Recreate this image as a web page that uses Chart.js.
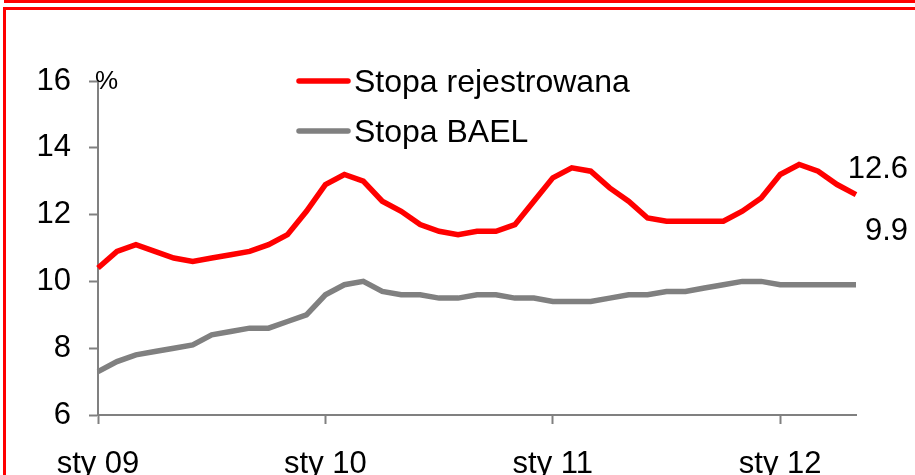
<!DOCTYPE html>
<html>
<head>
<meta charset="utf-8">
<script src="https://cdn.jsdelivr.net/npm/chart.js@4/dist/chart.umd.min.js"></script>
<style>
  html, body { margin: 0; padding: 0; background: #fff; overflow: hidden; }
  #wrap { position: relative; width: 915px; height: 475px; }
  #topbar { position: absolute; left: 4px; top: 0; width: 911px; height: 3px; background: #ff0000; }
  #frame { position: absolute; left: 3px; top: 7px; width: 1000px; height: 1000px; border: 3px solid #ff0000; box-sizing: border-box; }
  canvas { position: absolute; left: 0; top: 0; }
</style>
</head>
<body>
<div id="wrap">
  <div id="topbar"></div>
  <div id="frame"></div>
  <canvas id="c" width="915" height="475"></canvas>
</div>
<script>
const categories = [
  'sty 09','lut 09','mar 09','kwi 09','maj 09','cze 09','lip 09','sie 09','wrz 09','paź 09','lis 09','gru 09',
  'sty 10','lut 10','mar 10','kwi 10','maj 10','cze 10','lip 10','sie 10','wrz 10','paź 10','lis 10','gru 10',
  'sty 11','lut 11','mar 11','kwi 11','maj 11','cze 11','lip 11','sie 11','wrz 11','paź 11','lis 11','gru 11',
  'sty 12','lut 12','mar 12','kwi 12','maj 12'
];
const stopaRejestrowana = [
  10.4, 10.9, 11.1, 10.9, 10.7, 10.6, 10.7, 10.8, 10.9, 11.1, 11.4, 12.1,
  12.9, 13.2, 13.0, 12.4, 12.1, 11.7, 11.5, 11.4, 11.5, 11.5, 11.7, 12.4,
  13.1, 13.4, 13.3, 12.8, 12.4, 11.9, 11.8, 11.8, 11.8, 11.8, 12.1, 12.5,
  13.2, 13.5, 13.3, 12.9, 12.6
];
const stopaBAEL = [
  7.3, 7.6, 7.8, 7.9, 8.0, 8.1, 8.4, 8.5, 8.6, 8.6, 8.8, 9.0,
  9.6, 9.9, 10.0, 9.7, 9.6, 9.6, 9.5, 9.5, 9.6, 9.6, 9.5, 9.5,
  9.4, 9.4, 9.4, 9.5, 9.6, 9.6, 9.7, 9.7, 9.8, 9.9, 10.0, 10.0,
  9.9, 9.9, 9.9, 9.9, 9.9
];
const seriesNames = ['Stopa rejestrowana', 'Stopa BAEL'];
const yTicks = [6, 8, 10, 12, 14, 16];
const unitLabel = '%';

const FONT = '"Liberation Sans", Arial, sans-serif';
const AXIS = '#808080';

const overlay = {
  id: 'overlay',
  afterDraw(chart) {
    const ctx = chart.ctx;
    const area = chart.chartArea;
    ctx.save();
    // unit label
    ctx.fillStyle = '#000';
    ctx.font = '26px ' + FONT;
    ctx.textAlign = 'left';
    ctx.textBaseline = 'middle';
    ctx.fillText(unitLabel, area.left - 3, area.top + 1);
    // legend
    const legendY = [81, 131];
    chart.data.datasets.forEach((ds, i) => {
      const y = legendY[i];
      ctx.strokeStyle = ds.borderColor;
      ctx.lineWidth = 5.5;
      ctx.lineCap = 'round';
      ctx.beginPath();
      ctx.moveTo(299, y);
      ctx.lineTo(348, y);
      ctx.stroke();
      ctx.fillStyle = '#000';
      ctx.font = '32px ' + FONT;
      ctx.textAlign = 'left';
      ctx.textBaseline = 'middle';
      ctx.fillText(ds.label, 354, y + 2);
    });
    // end value labels
    const endY = [169, 231];
    chart.data.datasets.forEach((ds, i) => {
      const v = ds.data[ds.data.length - 1];
      ctx.fillStyle = '#000';
      ctx.font = '31px ' + FONT;
      ctx.textAlign = 'right';
      ctx.textBaseline = 'middle';
      ctx.fillText(v.toFixed(1), 908, endY[i]);
    });
    ctx.restore();
  }
};

new Chart(document.getElementById('c'), {
  type: 'line',
  data: {
    labels: categories,
    datasets: [
      { label: seriesNames[0], data: stopaRejestrowana, borderColor: '#ff0000', borderWidth: 5.5, pointRadius: 0, tension: 0, fill: false },
      { label: seriesNames[1], data: stopaBAEL, borderColor: '#808080', borderWidth: 5.5, pointRadius: 0, tension: 0, fill: false }
    ]
  },
  options: {
    responsive: false,
    animation: false,
    devicePixelRatio: 1,
    layout: { padding: { top: 81, right: 59, left: 0, bottom: 0 } },
    plugins: { legend: { display: false }, tooltip: { enabled: false } },
    scales: {
      x: {
        type: 'category',
        offset: false,
        afterBuildTicks(scale) {
          scale.ticks = scale.ticks.filter(t => categories[t.value].startsWith('sty'));
        },
        afterFit(scale) { scale.height = 60; },
        grid: { drawOnChartArea: false, drawTicks: true, tickLength: 9, tickWidth: 2, tickColor: AXIS, color: AXIS },
        border: { display: true, color: AXIS, width: 2 },
        ticks: { autoSkip: false, maxRotation: 0, minRotation: 0, color: '#000', font: { family: FONT, size: 31 }, padding: 22 }
      },
      y: {
        min: 6, max: 16,
        afterBuildTicks(scale) { scale.ticks = yTicks.map(v => ({ value: v })); },
        afterFit(scale) { scale.width = 98; },
        grid: { drawOnChartArea: false, drawTicks: true, tickLength: 9, tickWidth: 2, tickColor: AXIS, color: AXIS },
        border: { display: true, color: AXIS, width: 2 },
        ticks: { color: '#000', font: { family: FONT, size: 31 }, padding: 18 }
      }
    }
  },
  plugins: [overlay]
});
</script>
</body>
</html>
